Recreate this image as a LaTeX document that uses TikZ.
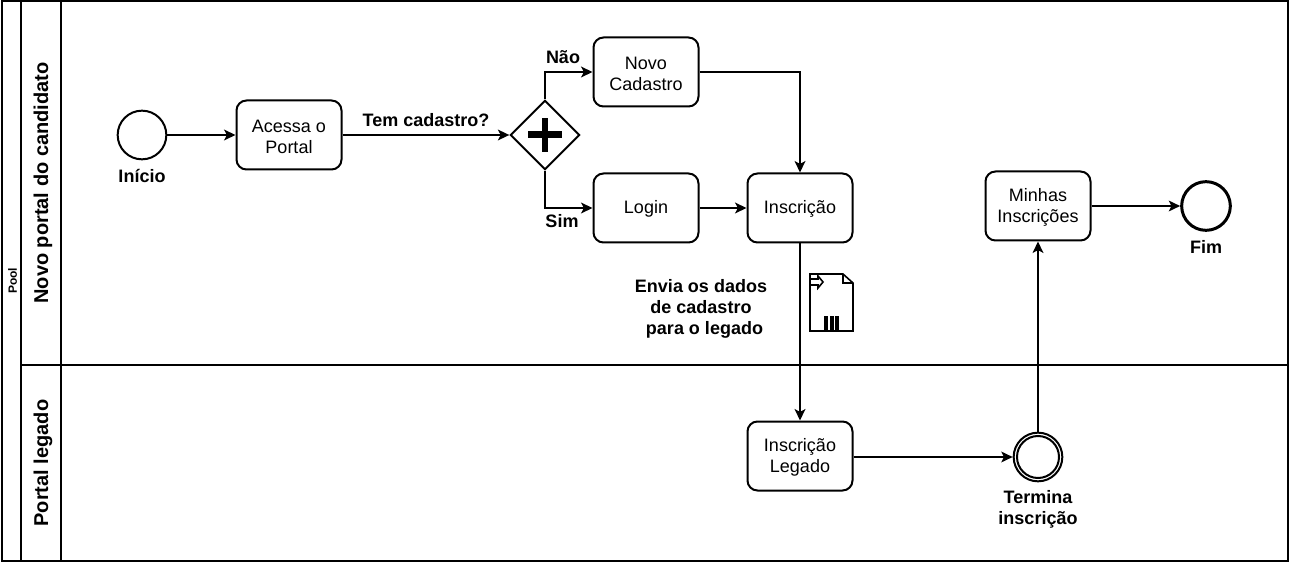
\documentclass[tikz,border=0pt]{standalone}
\usepackage{fontspec}
\setmainfont{Liberation Sans}
\usetikzlibrary{arrows.meta,shapes.geometric}
\newcommand{\topstrut}{\rule{0pt}{11.5pt}}
\tikzset{
  px/.style={x=0.75pt,y=-0.75pt},
  line/.style={line width=1.5pt},
  task/.style={draw,line width=1.5pt,rounded corners=7.5pt,minimum width=78.75pt,minimum height=51.75pt,align=center,font=\fontsize{13.5}{15.75}\selectfont,inner sep=0pt},
  flow/.style={line width=1.5pt,-{Stealth[length=8.5pt,width=8pt,inset=2pt]}},
  lab/.style={font=\bfseries\fontsize{13.5}{15.75}\selectfont,align=center,inner sep=0pt},
  ev/.style={circle,draw,fill=white,minimum size=36.5pt,inner sep=0pt},
  lane/.style={font=\bfseries\fontsize{15}{18}\selectfont,rotate=90,inner sep=0pt},
}
\begin{document}
\begin{tikzpicture}[px]
\useasboundingbox (0,0) rectangle (1290,563);
\fill[white] (0,0) rectangle (1290,563);
% pool and lanes
\draw[line] (2,1) rectangle (1288,561);
\draw[line] (21,1) -- (21,561);
\draw[line] (61,1) -- (61,561);
\draw[line] (21,365) -- (1288,365);
\node[font=\bfseries\fontsize{9}{11}\selectfont,rotate=90,inner sep=0pt] (pool) at (12.5,281) {Pool};
\node[lane] (lane1) at (43,183) {Novo portal do candidato};
\node[lane] (lane2) at (43,463) {Portal legado};
% nodes
\node[ev,line width=1.5pt] (start) at (142,135) {};
\node[task] (acessa) at (289,135) {\topstrut Acessa o\\Portal};
\node[diamond,draw,line width=1.5pt,minimum width=52pt,minimum height=52pt,inner sep=0pt,aspect=1] (gw) at (545,135) {};
\node[task] (novo) at (646,72) {\topstrut Novo\\Cadastro};
\node[task] (login) at (646,208) {\topstrut Login};
\node[task] (insc) at (800,208) {\topstrut Inscrição};
\node[task] (minhas) at (1038,206) {\topstrut Minhas\\Inscrições};
\node[task] (legado) at (800,456) {\topstrut Inscrição\\Legado};
\node[ev,line width=2.25pt] (fim) at (1206,206) {};
\node[ev,line width=1.5pt] (term) at (1038,457) {};
\node[circle,draw,line width=1.5pt,minimum size=31.5pt,inner sep=0pt] (termin) at (1038,457) {};
% gateway plus
\fill (541.5,118) rectangle (548,152);
\fill (528,131.5) rectangle (561.5,138);
% labels
\node[lab] (lstart) at (142,176) {Início};
\node[lab] (lfim) at (1206,247) {Fim};
\node[lab] (lterm) at (1038,509) {Termina\\inscrição};
\node[lab] (ltem) at (426,120) {Tem cadastro?};
\node[lab] (lnao) at (563,57) {Não};
\node[lab] (lsim) at (562,221) {Sim};
\node[lab] (lenv) at (701,309) {Envia os dados\\de cadastro\\\hspace*{5.25pt}para o legado};
% connectors
\draw[flow] (start) -- (acessa);
\draw[flow] (acessa) -- (gw);
\draw[flow] (gw.north) |- (novo);
\draw[flow] (gw.south) |- (login);
\draw[flow] (login) -- (insc);
\draw[flow] (novo.east) -| (insc.north);
\draw[flow] (insc) -- (legado);
\draw[flow] (legado.east |- term) -- (term);
\draw[flow] (term) -- (minhas);
\draw[flow] (minhas) -- (fim);
% data object
\draw[line width=1.2pt] (810,274) -- (843,274) -- (853,283) -- (853,331) -- (810,331) -- cycle;
\draw[line width=1.1pt] (843,274) -- (843,283) -- (853,283);
\draw[line width=1.2pt] (811,279) -- (818,279) -- (818,276) -- (823,282) -- (818,288) -- (818,285) -- (811,285);
\fill (824,316) rectangle (828,331);
\fill (829.5,316) rectangle (833.5,331);
\fill (835,316) rectangle (839,331);
\end{tikzpicture}
\end{document}
